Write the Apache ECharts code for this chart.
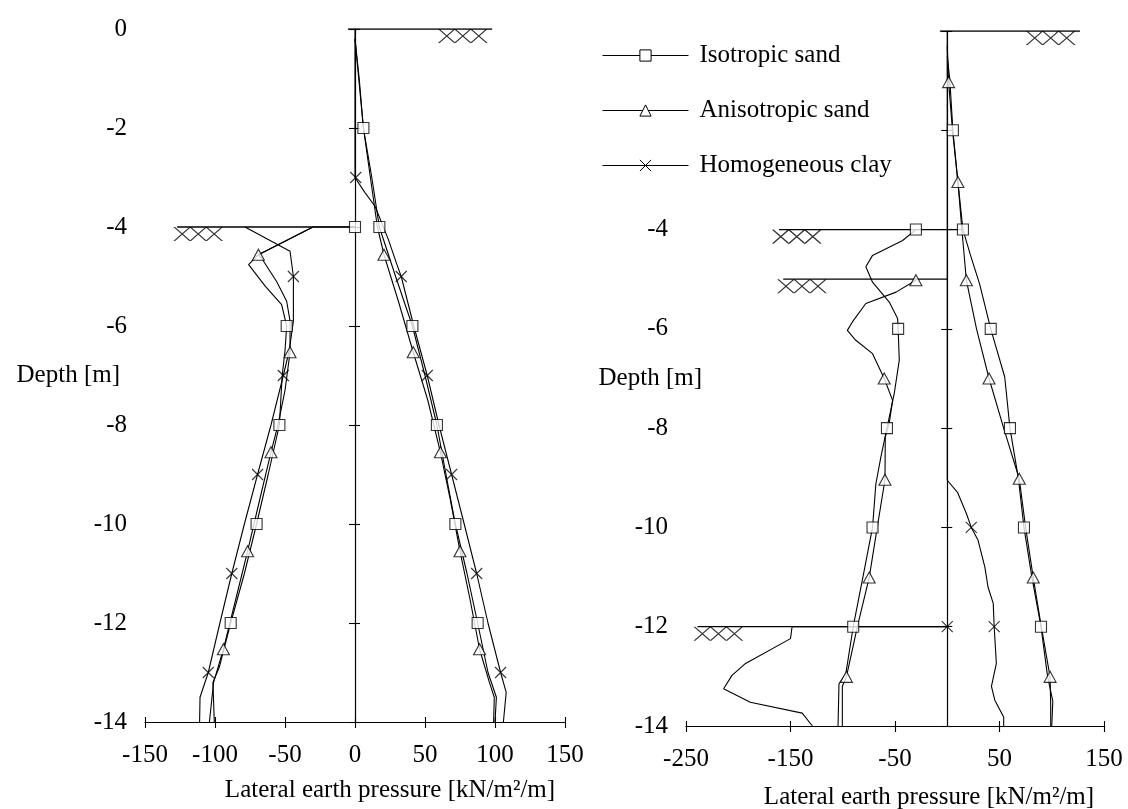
<!DOCTYPE html>
<html><head><meta charset="utf-8">
<script src="https://cdn.jsdelivr.net/npm/echarts@6/dist/echarts.min.js"></script>
<style>html,body{margin:0;padding:0;background:#fff;}#c{width:1128px;height:809px;}</style>
</head><body><div id="c"></div>
<script>
// ---------- Tick labels ----------
const depthTicks = [0, -2, -4, -6, -8, -10, -12, -14];
const depthLabelsA = [0, -2, -4, -6, -8, -10, -12, -14];
const depthLabelsB = [-4, -6, -8, -10, -12, -14];
const xTicksA = [-150, -100, -50, 0, 50, 100, 150];
const xTicksB = [-250, -150, -50, 50, 150];
const seriesNames = ['Isotropic sand', 'Anisotropic sand', 'Homogeneous clay'];

// ---------- Left panel (A) curves [pressure, depth] ----------
const isoA_active = [[0,-0.2],[3,-1],[6,-2],[12,-3],[17.4,-4],[29,-5],[41,-6],[50,-7],[58.5,-8],[65,-9],[71.7,-10],[80,-11],[87.6,-12],[95,-13],[101,-13.5],[100,-14]];
const anisoA_active = [[0,-0.2],[6,-2],[16,-4],[20.7,-4.56],[31,-5.5],[41.6,-6.53],[52,-7.5],[61,-8.55],[68,-9.5],[75,-10.55],[82,-11.5],[89,-12.53],[96,-13.2],[99.5,-13.5],[99,-14]];
const clayA_active = [[0,0],[0,-3],[7,-3.3],[14.3,-3.58],[23.8,-4.25],[29.6,-4.73],[33,-5],[42,-6],[51.6,-7],[60,-8],[69,-9],[78,-10],[86.9,-11],[95,-12],[104,-13],[108,-13.4],[106,-14]];
const isoA_passive = [[0,-4],[-30,-4],[-69,-4.56],[-76,-4.76],[-64,-5.2],[-52.4,-5.57],[-48.8,-6],[-50,-6.5],[-52,-7],[-54,-8],[-62,-9],[-70.3,-10],[-79,-11],[-88.8,-12],[-97,-12.9],[-101.5,-13.2],[-100.5,-14]];
const anisoA_passive = [[-30,-4],[-69,-4.56],[-66.7,-4.63],[-56,-5.1],[-48.8,-5.5],[-46.4,-5.9],[-46.4,-6.53],[-50,-7.3],[-55,-8],[-60,-8.55],[-68,-9.5],[-76.7,-10.55],[-85,-11.5],[-94,-12.53],[-101,-13.2],[-104,-14]];
const clayA_passive = [[-78.6,-4],[-46.4,-4.49],[-44,-5],[-44,-5.9],[-47,-6.5],[-51.2,-7],[-60,-8],[-69.6,-9],[-79,-10],[-88,-11],[-96.5,-12],[-104.8,-13],[-110.7,-13.5],[-111,-14]];

// ---------- Left panel (A) markers ----------
const isoA_marks = [[6,-2],[17.4,-4],[0,-4],[41,-6],[58.5,-8],[71.7,-10],[87.6,-12],[-48.8,-6],[-54,-8],[-70.3,-10],[-88.8,-12]];
const anisoA_marks = [[20.7,-4.56],[41.6,-6.53],[61,-8.55],[75,-10.55],[89,-12.53],[-69,-4.56],[-46.4,-6.53],[-60,-8.55],[-76.7,-10.55],[-94,-12.53]];
const clayA_marks = [[0.5,-3],[33,-5],[51.6,-7],[69,-9],[86.9,-11],[104,-13],[-44,-5],[-51.2,-7],[-69.6,-9],[-88,-11],[-104.8,-13]];

// ---------- Right panel (B) curves ----------
const isoB_active = [[0,-0.5],[2.5,-1],[5.4,-2],[10,-3],[15,-4],[22,-4.5],[31,-5.1],[41.6,-6],[55,-6.97],[60,-8],[68,-9],[73.4,-10],[81,-11],[89.7,-12],[96,-13],[101,-13.5],[100,-14]];
const anisoB_active = [[0,-0.3],[1.3,-1.03],[5,-2],[10.2,-3.04],[14,-4],[18.3,-5.02],[28,-6],[40,-7],[54,-8],[68.9,-9.02],[75,-10],[82.3,-11.01],[90,-12],[98.4,-13.01],[99,-13.6],[99,-14]];
const clayB_active = [[0,0],[0,-9.05],[10,-9.3],[18.3,-9.72],[23,-10],[29.5,-10.26],[36,-10.8],[39,-11.2],[44,-11.53],[44.9,-12],[47,-12.74],[42.3,-13.2],[45.5,-13.48],[54,-13.82],[54,-14]];
const isoB_passive = [[-30,-4],[-42.7,-4.22],[-71.5,-4.52],[-77.9,-4.75],[-71.5,-5.06],[-55.5,-5.46],[-47.5,-5.79],[-47,-6],[-45.9,-6.63],[-50.7,-7.3],[-57.7,-8],[-63.5,-8.58],[-68.3,-9.12],[-71.5,-10],[-80.7,-11],[-90,-12],[-97,-12.94],[-103.6,-13.15],[-104.5,-14]];
const anisoB_passive = [[-30,-5.02],[-49,-5.26],[-77.9,-5.49],[-90.8,-5.86],[-95.6,-6.03],[-87.5,-6.23],[-71.5,-6.5],[-60.3,-7],[-52.3,-7.44],[-55.5,-7.9],[-59.3,-8.18],[-59.6,-9.04],[-67,-10],[-74.7,-11.01],[-86,-12],[-96.5,-13.01],[-100.4,-13.2],[-100.4,-14]];
const clayB_passive = [[0,-12],[-148.5,-12],[-150,-12.24],[-193,-12.74],[-206,-12.98],[-214,-13.25],[-188.5,-13.52],[-138.8,-13.74],[-129,-14]];

// ---------- Right panel (B) markers ----------
const isoB_marks = [[5.4,-2],[15,-4],[41.6,-6],[60,-8],[73.4,-10],[89.7,-12],[-30,-4],[-47,-6],[-57.7,-8],[-71.5,-10],[-90,-12]];
const anisoB_marks = [[1.3,-1.03],[10.2,-3.04],[18.3,-5.02],[40,-7],[68.9,-9.02],[82.3,-11.01],[98.4,-13.01],[-30,-5.02],[-60.3,-7],[-59.6,-9.04],[-74.7,-11.01],[-96.5,-13.01]];
const clayB_marks = [[23,-10],[44.9,-12],[0,-12]];

// ---------- Ground surfaces & hatch positions ----------
const groundA = [[[-5,0],[98,0]], [[-127,-4],[0,-4]]];
const groundB = [[[-7,0],[127,0]], [[-161,-4],[15,-4]], [[-157,-5],[0,-5]], [[-239,-12],[0,-12]]];
const hatchA = [[77,0],[-112,-4]];
const hatchB = [[99,0],[-144,-4],[-139,-5],[-219,-12]];

// ---------- Styling ----------
const FONT = 'Liberation Serif';
const FS = 25;
const BLACK = '#000';
const SYM = {
  'Isotropic sand': {symbol: 'rect', size: [11, 11]},
  'Anisotropic sand': {symbol: 'triangle', size: [12, 11]},
  'Homogeneous clay': {symbol: 'path://M0,0L10,10M10,0L0,10', size: [11, 11]}
};
const HATCH = 'path://M0,14L16,0M0,0L16,14M16,14L32,0M16,0L32,14M32,14L48,0M32,0L48,14';

function curve(name, data, xi, yi) {
  return {type: 'line', name, data, xAxisIndex: xi, yAxisIndex: yi,
    showSymbol: false, symbol: SYM[name].symbol, symbolSize: SYM[name].size,
    lineStyle: {color: BLACK, width: 1.1}, itemStyle: {color: BLACK},
    z: 3, silent: true};
}
function marks(name, data, xi, yi) {
  return {type: 'scatter', name, data, xAxisIndex: xi, yAxisIndex: yi,
    symbol: SYM[name].symbol, symbolSize: SYM[name].size,
    itemStyle: {color: '#fff', borderColor: BLACK, borderWidth: 1.1},
    z: 5, silent: true};
}
function ground(seg, xi, yi) {
  return {type: 'line', name: 'ground', data: seg, xAxisIndex: xi, yAxisIndex: yi,
    showSymbol: false, symbol: 'none', lineStyle: {color: BLACK, width: 1.3}, z: 2, silent: true};
}
function hatch(data, xi, yi) {
  return {type: 'scatter', name: 'hatch', data, xAxisIndex: xi, yAxisIndex: yi,
    symbol: HATCH, symbolSize: [48, 14], symbolOffset: [0, 7],
    itemStyle: {color: 'rgba(0,0,0,0)', borderColor: BLACK, borderWidth: 1}, z: 2, silent: true};
}

const labelStyle = {fontFamily: FONT, fontSize: FS, color: BLACK};
const xName = 'Lateral earth pressure [kN/m\u00B2/m]';

function mainX(grid, min, max, ticks, namePad, nameGap) {
  return {type: 'value', gridIndex: grid, position: 'bottom', min, max,
    axisLine: {onZero: false, lineStyle: {color: BLACK, width: 1.1}},
    axisTick: {customValues: ticks, length: 6, lineStyle: {color: BLACK, width: 1.1}},
    axisLabel: Object.assign({customValues: ticks, margin: 21}, labelStyle),
    splitLine: {show: false},
    name: xName, nameLocation: 'middle', nameGap: nameGap, nameMoveOverlap: false,
    nameTextStyle: Object.assign({padding: [0, 0, 0, namePad]}, labelStyle)};
}
function dupX(grid, min, max, ticks) {
  return {type: 'value', gridIndex: grid, position: 'bottom', min, max,
    axisLine: {show: false, onZero: false},
    axisTick: {customValues: ticks, inside: true, length: 5, lineStyle: {color: BLACK, width: 1.1}},
    axisLabel: {show: false}, splitLine: {show: false}};
}
function labelY(grid, labels, nameGap) {
  return {type: 'value', gridIndex: grid, position: 'left', min: -14, max: 0,
    axisLine: {show: false, onZero: false}, axisTick: {show: false},
    axisLabel: Object.assign({customValues: labels, margin: 18}, labelStyle),
    splitLine: {show: false},
    name: 'Depth [m]', nameLocation: 'middle', nameRotate: 0, nameGap: nameGap, nameMoveOverlap: false,
    nameTextStyle: labelStyle};
}
function wallY(grid, xIdx, inside) {
  return {type: 'value', gridIndex: grid, position: 'left', min: -14, max: 0,
    axisLine: {show: !inside, onZero: true, onZeroAxisIndex: xIdx, lineStyle: {color: BLACK, width: 1.2}},
    axisTick: {customValues: depthTicks, inside: inside, length: inside ? 5 : 6, lineStyle: {color: BLACK, width: 1.1}},
    axisLabel: {show: false}, splitLine: {show: false}};
}

const series = [];
series.push(curve('Isotropic sand', isoA_active, 0, 0));
series.push(curve('Anisotropic sand', anisoA_active, 0, 0));
series.push(curve('Homogeneous clay', clayA_active, 0, 0));
series.push(curve('Isotropic sand', isoA_passive, 0, 0));
series.push(curve('Anisotropic sand', anisoA_passive, 0, 0));
series.push(curve('Homogeneous clay', clayA_passive, 0, 0));
series.push(curve('Isotropic sand', isoB_active, 2, 3));
series.push(curve('Anisotropic sand', anisoB_active, 2, 3));
series.push(curve('Homogeneous clay', clayB_active, 2, 3));
series.push(curve('Isotropic sand', isoB_passive, 2, 3));
series.push(curve('Anisotropic sand', anisoB_passive, 2, 3));
series.push(curve('Homogeneous clay', clayB_passive, 2, 3));
groundA.forEach(s => series.push(ground(s, 0, 0)));
groundB.forEach(s => series.push(ground(s, 2, 3)));
series.push(hatch(hatchA, 0, 0));
series.push(hatch(hatchB, 2, 3));
series.push(marks('Isotropic sand', isoA_marks, 0, 0));
series.push(marks('Anisotropic sand', anisoA_marks, 0, 0));
series.push(marks('Homogeneous clay', clayA_marks, 0, 0));
series.push(marks('Isotropic sand', isoB_marks, 2, 3));
series.push(marks('Anisotropic sand', anisoB_marks, 2, 3));
series.push(marks('Homogeneous clay', clayB_marks, 2, 3));

const chart = echarts.init(document.getElementById('c'), null, {renderer: 'canvas'});
chart.setOption({
  animation: false,
  backgroundColor: '#fff',
  textStyle: {fontFamily: FONT},
  grid: [
    {left: 145, top: 29, width: 420, height: 693, containLabel: false, outerBoundsMode: 'none'},
    {left: 686, top: 31, width: 418, height: 695, containLabel: false, outerBoundsMode: 'none'}
  ],
  xAxis: [
    mainX(0, -150, 150, xTicksA, 70, 56),
    dupX(0, -150, 150, xTicksA),
    mainX(1, -250, 150, xTicksB, 68, 59),
    dupX(1, -250, 150, xTicksB)
  ],
  yAxis: [
    labelY(0, depthLabelsA, 25), wallY(0, 0, false), wallY(0, 0, true),
    labelY(1, depthLabelsB, -16), wallY(1, 2, false), wallY(1, 2, true)
  ],
  legend: {
    data: seriesNames, orient: 'vertical', left: 602, top: 43, padding: 0,
    itemWidth: 86, itemHeight: 14, itemGap: 30, selectedMode: false,
    textStyle: Object.assign({padding: [0, 0, 0, 6]}, labelStyle),
    itemStyle: {color: '#fff', borderColor: BLACK, borderWidth: 1},
    lineStyle: {color: BLACK, width: 1}
  },
  series
});
</script></body></html>
